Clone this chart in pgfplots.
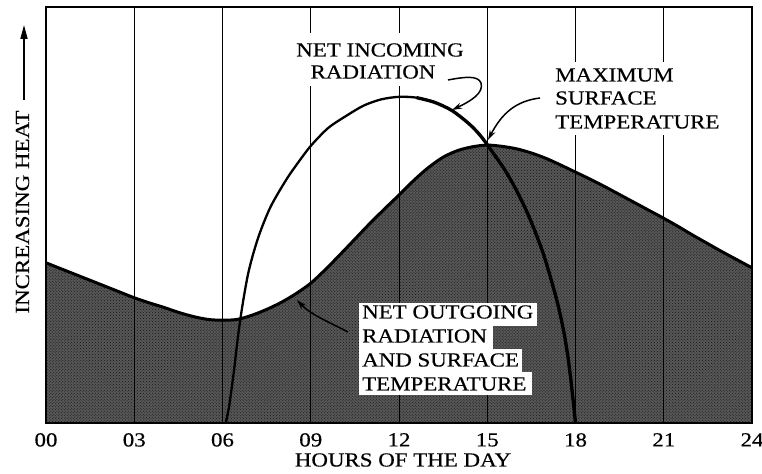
\documentclass[border=0pt]{standalone}
\usepackage{pgfplots}
\pgfplotsset{compat=1.18}
\usepackage{pgfplotstable}
\usepackage{fontspec}
\setmainfont[FakeStretch=1.15,FakeBold=0.4]{Liberation Serif}
\usetikzlibrary{arrows.meta,patterns}
\newcommand\lbl{\fontsize{20}{23.5}\selectfont}

\pgfplotstableread{
h v
0 38.5
0.5 37.1
1 35.7
1.5 34.3
2 32.9
2.5 31.5
3 30.1
3.5 28.9
4 27.8
4.5 26.6
5 25.6
5.5 24.9
6 24.7
6.5 24.9
7 25.9
7.5 27.3
8 29.0
8.5 31.1
9 33.6
9.5 36.9
10 40.5
10.5 44.2
11 47.9
11.5 51.4
12 54.8
12.5 58.3
13 61.4
13.5 63.9
14 65.5
14.5 66.4
15 66.8
15.5 66.5
16 65.9
16.5 64.9
17 63.6
17.5 62.0
18 60.3
18.5 58.6
19 56.8
19.5 54.9
20 53.0
20.5 51.1
21 49.2
21.5 47.2
22 45.1
22.5 43.1
23 41.1
23.5 39.2
24 37.3
}\outgoing

\pgfplotstableread{
h v
6.11 0
6.22 3.8
6.38 12.0
6.53 21.0
6.69 28.8
6.9 36.8
7.22 44.7
7.63 51.9
8.16 58.4
8.56 62.5
9.0 66.6
9.59 70.9
10.2 73.8
10.8 76.3
11.4 77.8
12.0 78.4
12.6 78.2
13.2 77.1
13.8 75.1
14.4 71.8
14.8 68.8
15.2 64.9
15.6 60.8
15.95 56.5
16.3 51.5
16.6 46.5
16.9 40.8
17.15 35.0
17.4 28.5
17.6 22.0
17.75 15.5
17.88 8.0
18.0 0
}\incoming

\pgfplotstableread{
h v
12.6 78.2
13.2 77.1
13.8 75.1
14.4 71.8
14.8 68.8
15.2 64.9
15.6 60.8
15.95 56.5
16.3 51.5
16.6 46.5
16.9 40.8
17.15 35.0
17.4 28.5
17.6 22.0
17.75 15.5
17.88 8.0
18.0 0
}\incomingright

\begin{document}
\begin{tikzpicture}[x=1bp,y=1bp]
\useasboundingbox (-46,-51) rectangle (716,423);
\begin{axis}[
  at={(0,0)}, anchor=south west,
  scale only axis, width=706bp, height=416bp,
  xmin=0, xmax=24, ymin=0, ymax=100,
  xtick={0,3,...,24},
  xticklabels={00,03,06,09,12,15,18,21,24},
  ytick=\empty,
  major tick length=0pt,
  /pgf/number format/assume math mode=true,
  xticklabel style={font=\lbl, anchor=north, inner sep=0pt, yshift=-10bp},
  axis line style={line width=2.2bp},
  axis on top,
]
\addplot[draw=none, fill=black!66, smooth] table[x=h,y=v] {\outgoing} \closedcycle;
\addplot[draw=none, pattern=crosshatch dots, pattern color=black!92, smooth] table[x=h,y=v] {\outgoing} \closedcycle;
\addplot[black, line width=1bp] coordinates {(3,0) (3,100)};
\addplot[black, line width=1bp] coordinates {(6,0) (6,100)};
\addplot[black, line width=1bp] coordinates {(9,0) (9,100)};
\addplot[black, line width=1bp] coordinates {(12,0) (12,100)};
\addplot[black, line width=1bp] coordinates {(15,0) (15,100)};
\addplot[black, line width=1bp] coordinates {(18,0) (18,100)};
\addplot[black, line width=1bp] coordinates {(21,0) (21,100)};
\addplot[black, line width=3bp, smooth] table[x=h,y=v] {\outgoing};
\addplot[black, line width=2.3bp, smooth] table[x=h,y=v] {\incoming};
\addplot[black, line width=3.3bp, smooth] table[x=h,y=v] {\incomingright};
\end{axis}

% white label backgrounds
\fill[white] (244,337) rectangle (424,390);
\fill[white] (504,288) rectangle (682,361);
\fill[white] (313,97) rectangle (491,120);
\fill[white] (313,74) rectangle (447,97);
\fill[white] (313,51) rectangle (476,74);
\fill[white] (313,28) rectangle (486,51);

% labels
\node[font=\lbl, inner sep=0pt] at (334,373) {NET INCOMING};
\node[font=\lbl, inner sep=0pt] at (327,351) {RADIATION};

\node[font=\lbl, inner sep=0pt, anchor=west] at (509,348) {MAXIMUM};
\node[font=\lbl, inner sep=0pt, anchor=west] at (509,325) {SURFACE};
\node[font=\lbl, inner sep=0pt, anchor=west] at (509,301) {TEMPERATURE};

\node[font=\lbl, inner sep=0pt, anchor=west] at (316,111) {NET OUTGOING};
\node[font=\lbl, inner sep=0pt, anchor=west] at (316,87) {RADIATION};
\node[font=\lbl, inner sep=0pt, anchor=west] at (316,63) {AND SURFACE};
\node[font=\lbl, inner sep=0pt, anchor=west] at (316,39) {TEMPERATURE};

% arrows
\draw[line width=1.5bp, -{Stealth[length=10bp,width=6bp]}] (402,343) .. controls (418,346) and (432,348) .. (435,340) .. controls (438,330) and (425,322) .. (406,313);
\draw[line width=1.5bp, -{Stealth[length=10bp,width=6bp]}] (494,325) .. controls (470,322) and (456,310) .. (442,283);
\draw[line width=1.5bp, -{Stealth[length=10bp,width=6bp]}] (302,91) .. controls (285,100) and (265,108) .. (251,123);

% axis titles
\node[font=\lbl, inner sep=0pt] at (357,-37) {HOURS OF THE DAY};
\node[font=\lbl, inner sep=0pt, rotate=90] at (-23.5,211) {INCREASING HEAT};
\draw[line width=1.5bp, -{Triangle[length=14bp,width=7bp]}] (-22,323) -- (-22,398);
\end{tikzpicture}
\end{document}
